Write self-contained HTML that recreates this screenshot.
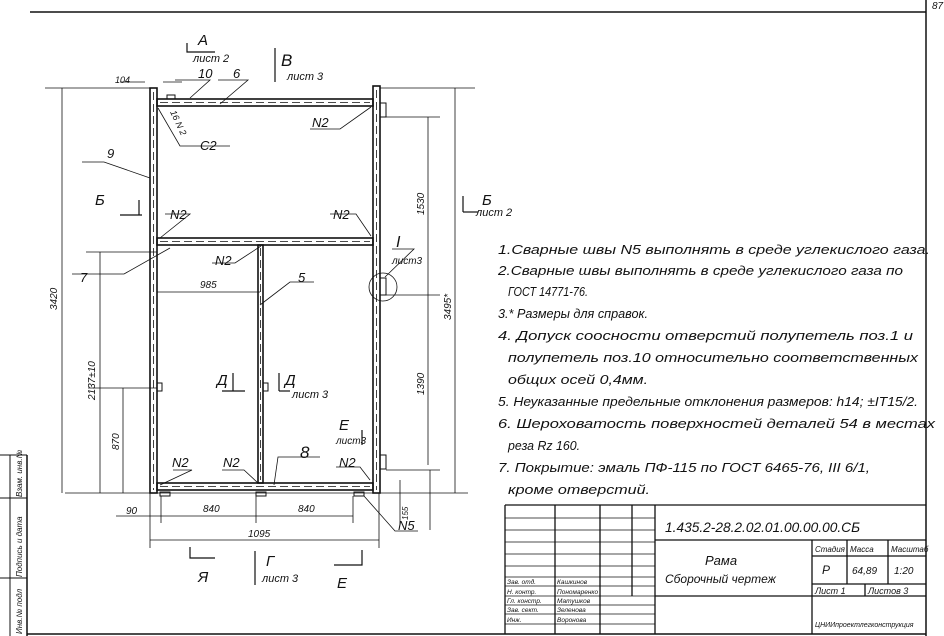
<!DOCTYPE html>
<html><head><meta charset="utf-8"><style>
body{margin:0;background:#fff}
svg{display:block}
text{font-family:"Liberation Sans",sans-serif;font-style:italic;fill:#111}
</style></head><body>
<svg width="944" height="636" viewBox="0 0 944 636" xmlns="http://www.w3.org/2000/svg" stroke="#111" fill="none">
<!-- borders -->
<line x1="30" y1="12" x2="926" y2="12" stroke-width="1.5"/>
<line x1="926" y1="0" x2="926" y2="636" stroke-width="1.5"/>
<line x1="27" y1="455" x2="27" y2="636" stroke-width="1.5"/>
<line x1="0" y1="455" x2="27" y2="455"/>
<line x1="0" y1="498" x2="27" y2="498"/>
<line x1="0" y1="578" x2="27" y2="578"/>
<line x1="27" y1="634" x2="926" y2="634" stroke-width="1.5"/>
<line x1="10" y1="455" x2="10" y2="636"/>
<text x="932" y="9" font-size="10" stroke="none">87</text>
<g font-size="8" stroke="none">
<text transform="translate(22,497) rotate(-90)">Взам. инв.№</text>
<text transform="translate(22,577) rotate(-90)">Подпись и дата</text>
<text transform="translate(22,634) rotate(-90)">Инв.№ подл</text>
</g>
<!-- frame -->
<g stroke-width="1.6">
<rect x="150" y="88" width="7" height="405"/>
<rect x="373" y="86" width="7" height="407"/>
<rect x="157" y="99" width="216" height="7"/>
<rect x="157" y="238" width="216" height="7"/>
<rect x="258" y="245" width="5" height="238"/>
<rect x="157" y="483" width="216" height="7"/>
</g>
<g stroke-width="0.8" stroke-dasharray="8,4">
<line x1="153.5" y1="92" x2="153.5" y2="490"/>
<line x1="376.5" y1="90" x2="376.5" y2="490"/>
<line x1="160" y1="102.5" x2="370" y2="102.5"/>
<line x1="160" y1="241.5" x2="370" y2="241.5"/>
<line x1="160" y1="486.5" x2="370" y2="486.5"/>
<line x1="260.5" y1="248" x2="260.5" y2="480"/>
</g>
<!-- feet and lugs -->
<rect x="160" y="492" width="10" height="4" stroke-width="1"/>
<rect x="256" y="492" width="10" height="4" stroke-width="1"/>
<rect x="354" y="492" width="10" height="4" stroke-width="1"/>
<rect x="380" y="103" width="6" height="14" stroke-width="1"/>
<rect x="380" y="278" width="6" height="17" stroke-width="1"/>
<rect x="380" y="455" width="6" height="14" stroke-width="1"/>
<rect x="157" y="383" width="5" height="8" stroke-width="1"/>
<rect x="263" y="383" width="5" height="8" stroke-width="1"/>
<circle cx="383" cy="287" r="14" stroke-width="0.8"/>
<rect x="167" y="95" width="8" height="4" stroke-width="1"/>
<!-- dimension lines -->
<g stroke-width="0.8">
<line x1="45" y1="88" x2="150" y2="88"/>
<line x1="65" y1="493" x2="468" y2="493"/>
<line x1="62" y1="88" x2="62" y2="493"/>
<line x1="100" y1="252" x2="100" y2="493"/>
<line x1="86" y1="252" x2="157" y2="252"/>
<line x1="123" y1="388" x2="123" y2="493"/>
<line x1="88" y1="388" x2="157" y2="388"/>
<line x1="386" y1="117" x2="440" y2="117"/>
<line x1="386" y1="295" x2="440" y2="295"/>
<line x1="386" y1="470" x2="440" y2="470"/>
<line x1="428" y1="117" x2="428" y2="465"/>
<line x1="430" y1="470" x2="430" y2="530"/>
<line x1="380" y1="88" x2="475" y2="88"/>
<line x1="455" y1="88" x2="455" y2="493"/>
<line x1="116" y1="516" x2="353" y2="516"/>
<line x1="161" y1="496" x2="161" y2="523"/>
<line x1="256" y1="496" x2="256" y2="523"/>
<line x1="353" y1="496" x2="353" y2="523"/>
<line x1="150" y1="540" x2="379" y2="540"/>
<line x1="150" y1="493" x2="150" y2="548"/>
<line x1="379" y1="493" x2="379" y2="548"/>
<line x1="157" y1="292" x2="260" y2="292"/>
<line x1="400" y1="480" x2="400" y2="525"/>
<line x1="120" y1="82" x2="145" y2="82"/>
<line x1="163" y1="82" x2="182" y2="82"/>
<polyline points="82,162 104,162 150,178"/>
<polyline points="72,274 124,274 170,248"/>
<polyline points="175,80 210,80 190,98"/>
<polyline points="218,80 248,80 220,104"/>
<polyline points="158,108 180,146 230,146"/>
<polyline points="310,129 340,129 371,107"/>
<polyline points="165,214 190,214 160,238"/>
<polyline points="330,214 356,214 371,236"/>
<polyline points="212,263 235,263 261,246"/>
<polyline points="314,282 290,282 260,305"/>
<polyline points="320,457 278,457 274,485"/>
<polyline points="173,470 192,470 160,485"/>
<polyline points="222,470 244,470 258,483"/>
<polyline points="336,467 360,467 370,480"/>
<polyline points="418,531 395,531 364,496"/>
<polyline points="392,249 414,249 385,277"/>
</g>
<!-- cut markers -->
<g stroke-width="1.2">
<polyline points="187,43 187,52 215,52"/>
<line x1="275" y1="48" x2="275" y2="82"/>
<line x1="120" y1="215" x2="142" y2="215"/>
<line x1="139" y1="200" x2="139" y2="215"/>
<line x1="463" y1="196" x2="463" y2="212"/>
<line x1="463" y1="212" x2="478" y2="212"/>
<line x1="233" y1="373" x2="233" y2="391"/>
<line x1="222" y1="391" x2="245" y2="391"/>
<line x1="279" y1="373" x2="279" y2="391"/>
<line x1="279" y1="391" x2="290" y2="391"/>
<line x1="362" y1="430" x2="362" y2="445"/>
<polyline points="190,547 190,558 215,558"/>
<line x1="255" y1="551" x2="255" y2="585"/>
<polyline points="334,565 362,565 362,550"/>
</g>
<!-- labels -->
<g stroke="none" font-size="13">
<text x="198" y="45" font-size="15">А</text>
<text x="193" y="62" font-size="11">лист 2</text>
<text x="281" y="66" font-size="17">В</text>
<text x="287" y="80" font-size="11">лист 3</text>
<text x="115" y="83" font-size="9">104</text>
<text x="198" y="78">10</text>
<text x="233" y="78">6</text>
<text x="107" y="158">9</text>
<text x="95" y="205" font-size="15">Б</text>
<text x="482" y="205" font-size="15">Б</text>
<text x="476" y="216" font-size="11">лист 2</text>
<text x="200" y="150">С2</text>
<text x="170" y="112" font-size="9" transform="rotate(65 170 112)">16 N 2</text>
<text x="312" y="127">N2</text>
<text x="170" y="219">N2</text>
<text x="333" y="219">N2</text>
<text x="80" y="282">7</text>
<text x="215" y="265">N2</text>
<text x="200" y="288" font-size="10">985</text>
<text x="298" y="282">5</text>
<text x="396" y="247" font-size="16">I</text>
<text x="392" y="264" font-size="10">лист3</text>
<text x="217" y="385" font-size="15">Д</text>
<text x="285" y="385" font-size="15">Д</text>
<text x="292" y="398" font-size="11">лист 3</text>
<text x="339" y="430" font-size="15">Е</text>
<text x="336" y="444" font-size="10">лист3</text>
<text x="300" y="458" font-size="17">8</text>
<text x="172" y="467">N2</text>
<text x="223" y="467">N2</text>
<text x="339" y="467">N2</text>
<text x="126" y="514" font-size="10">90</text>
<text x="203" y="512" font-size="10">840</text>
<text x="298" y="512" font-size="10">840</text>
<text x="248" y="537" font-size="10">1095</text>
<text x="398" y="530">N5</text>
<text x="198" y="582" font-size="15">Я</text>
<text x="266" y="566" font-size="15">Г</text>
<text x="262" y="582" font-size="11">лист 3</text>
<text x="337" y="588" font-size="15">Е</text>
<text transform="translate(57,310) rotate(-90)" font-size="10">3420</text>
<text transform="translate(95,400) rotate(-90)" font-size="10">2137±10</text>
<text transform="translate(119,450) rotate(-90)" font-size="10">870</text>
<text transform="translate(424,215) rotate(-90)" font-size="10">1530</text>
<text transform="translate(424,395) rotate(-90)" font-size="10">1390</text>
<text transform="translate(451,320) rotate(-90)" font-size="10">3495*</text>
<text transform="translate(408,520) rotate(-90)" font-size="8">155</text>
</g>
<!-- notes -->
<g stroke="none" font-size="13">
<text x="498" y="254" textLength="432" lengthAdjust="spacingAndGlyphs">1.Сварные швы N5 выполнять в среде углекислого газа.</text>
<text x="498" y="275" textLength="405" lengthAdjust="spacingAndGlyphs">2.Сварные швы выполнять в среде углекислого газа по</text>
<text x="508" y="296" textLength="80" lengthAdjust="spacingAndGlyphs">ГОСТ 14771-76.</text>
<text x="498" y="318" textLength="150" lengthAdjust="spacingAndGlyphs">3.* Размеры для справок.</text>
<text x="498" y="340" textLength="415" lengthAdjust="spacingAndGlyphs">4. Допуск соосности отверстий полупетель поз.1 и</text>
<text x="508" y="362" textLength="410" lengthAdjust="spacingAndGlyphs">полупетель поз.10 относительно соответственных</text>
<text x="508" y="384" textLength="140" lengthAdjust="spacingAndGlyphs">общих осей 0,4мм.</text>
<text x="498" y="406" textLength="420" lengthAdjust="spacingAndGlyphs">5. Неуказанные предельные отклонения размеров: h14; ±IT15/2.</text>
<text x="498" y="428" textLength="437" lengthAdjust="spacingAndGlyphs">6. Шероховатость поверхностей деталей 54 в местах</text>
<text x="508" y="450" textLength="72" lengthAdjust="spacingAndGlyphs">реза Rz 160.</text>
<text x="498" y="472" textLength="372" lengthAdjust="spacingAndGlyphs">7. Покрытие: эмаль ПФ-115 по ГОСТ 6465-76, III 6/1,</text>
<text x="508" y="494" textLength="142" lengthAdjust="spacingAndGlyphs">кроме отверстий.</text>
</g>
<!-- title block -->
<g stroke-width="1.3">
<line x1="505" y1="505" x2="505" y2="634"/>
<line x1="505" y1="505" x2="926" y2="505"/>
<line x1="655" y1="505" x2="655" y2="634"/>
<line x1="655" y1="540" x2="926" y2="540"/>
<line x1="655" y1="596" x2="926" y2="596"/>
<line x1="812" y1="540" x2="812" y2="634"/>
<line x1="812" y1="556" x2="926" y2="556"/>
<line x1="812" y1="584" x2="926" y2="584"/>
<line x1="847" y1="540" x2="847" y2="584"/>
<line x1="888" y1="540" x2="888" y2="584"/>
<line x1="865" y1="584" x2="865" y2="596"/>
<line x1="555" y1="505" x2="555" y2="634"/>
<line x1="600" y1="505" x2="600" y2="634"/>
<line x1="632" y1="505" x2="632" y2="596"/>
</g>
<g stroke-width="0.8">
<line x1="505" y1="518" x2="655" y2="518"/>
<line x1="505" y1="530" x2="655" y2="530"/>
<line x1="505" y1="542" x2="655" y2="542"/>
<line x1="505" y1="554" x2="655" y2="554"/>
<line x1="505" y1="566" x2="655" y2="566"/>
<line x1="505" y1="577" x2="655" y2="577"/>
<line x1="505" y1="586" x2="655" y2="586"/>
<line x1="505" y1="596" x2="655" y2="596"/>
<line x1="505" y1="605" x2="655" y2="605"/>
<line x1="505" y1="614" x2="655" y2="614"/>
<line x1="505" y1="624" x2="655" y2="624"/>
</g>
<g stroke="none">
<text x="665" y="532" font-size="14" textLength="195" lengthAdjust="spacingAndGlyphs">1.435.2-28.2.02.01.00.00.00.СБ</text>
<text x="705" y="565" font-size="13">Рама</text>
<text x="665" y="583" font-size="12">Сборочный чертеж</text>
<text x="815" y="552" font-size="8">Стадия</text>
<text x="850" y="552" font-size="8">Масса</text>
<text x="891" y="552" font-size="8">Масштаб</text>
<text x="822" y="574" font-size="12">Р</text>
<text x="852" y="574" font-size="10">64,89</text>
<text x="894" y="574" font-size="10">1:20</text>
<text x="815" y="594" font-size="9">Лист 1</text>
<text x="868" y="594" font-size="9">Листов 3</text>
<text x="815" y="627" font-size="7">ЦНИИпроектлегконструкция</text>
<g font-size="6.5">
<text x="507" y="584">Зав. отд.</text><text x="557" y="584">Кашкинов</text>
<text x="507" y="594">Н. контр.</text><text x="557" y="594">Пономаренко</text>
<text x="507" y="603">Гл. констр.</text><text x="557" y="603">Матушков</text>
<text x="507" y="612">Зав. сект.</text><text x="557" y="612">Зеленова</text>
<text x="507" y="622">Инж.</text><text x="557" y="622">Воронова</text>
</g>
</g>
</svg>
</body></html>
